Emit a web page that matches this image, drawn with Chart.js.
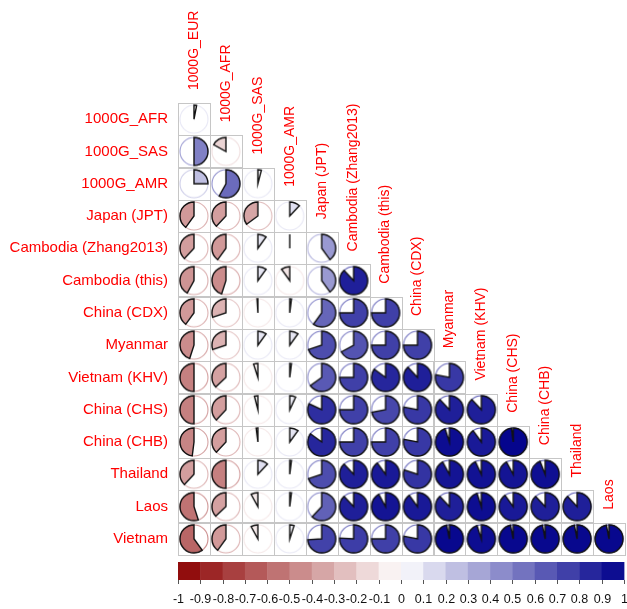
<!DOCTYPE html>
<html>
<head>
<meta charset="utf-8">
<script src="https://cdn.jsdelivr.net/npm/chart.js@4"></script>
<style>
  html, body { margin: 0; padding: 0; background: #fff; overflow: hidden; }
  #wrap { width: 640px; height: 609px; }
</style>
</head>
<body>
<div id="wrap"><canvas id="corrChart" width="640" height="609"></canvas></div>
<script>
// row and column variables (lower triangle, no diagonal)
const rowLabels = ['1000G_AFR', '1000G_SAS', '1000G_AMR', 'Japan (JPT)', 'Cambodia (Zhang2013)',
    'Cambodia (this)', 'China (CDX)', 'Myanmar', 'Vietnam (KHV)', 'China (CHS)', 'China (CHB)',
    'Thailand', 'Laos', 'Vietnam'];
const colLabels = ['1000G_EUR', '1000G_AFR', '1000G_SAS', '1000G_AMR', 'Japan (JPT)', 'Cambodia (Zhang2013)',
    'Cambodia (this)', 'China (CDX)', 'Myanmar', 'Vietnam (KHV)', 'China (CHS)', 'China (CHB)',
    'Thailand', 'Laos'];

// correlations, one array per row, read left to right
const corrAFR      = [0.03];
const corrSAS      = [0.50, -0.17];
const corrAMR      = [0.25, 0.58, 0.04];
const corrJPT      = [-0.40, -0.38, -0.35, 0.12];
const corrCamZhang = [-0.38, -0.40, 0.10, 0.00, 0.40];
const corrCamThis  = [-0.42, -0.45, 0.10, -0.10, 0.40, 0.88];
const corrCDX      = [-0.40, -0.30, -0.01, 0.02, 0.60, 0.75, 0.75];
const corrMyanmar  = [-0.45, -0.30, 0.10, 0.10, 0.70, 0.67, 0.75, 0.75];
const corrKHV      = [-0.50, -0.37, -0.05, 0.02, 0.65, 0.75, 0.85, 0.88, 0.78];
const corrCHS      = [-0.50, -0.38, -0.04, 0.07, 0.82, 0.75, 0.72, 0.78, 0.88, 0.88];
const corrCHB      = [-0.48, -0.38, -0.02, 0.10, 0.85, 0.75, 0.75, 0.78, 0.95, 0.90, 0.98];
const corrThailand = [-0.38, -0.50, 0.12, 0.02, 0.70, 0.88, 0.90, 0.80, 0.92, 0.93, 0.92, 0.94];
const corrLaos     = [-0.55, -0.37, -0.08, 0.02, 0.62, 0.88, 0.92, 0.90, 0.88, 0.95, 0.90, 0.88, 0.88];
const corrVietnam  = [-0.60, -0.40, -0.08, 0.05, 0.74, 0.76, 0.75, 0.78, 0.97, 0.95, 0.97, 0.97, 0.97, 0.97];

const corrRows = [corrAFR, corrSAS, corrAMR, corrJPT, corrCamZhang, corrCamThis, corrCDX,
    corrMyanmar, corrKHV, corrCHS, corrCHB, corrThailand, corrLaos, corrVietnam];

// colour bar tick labels
const barTicks = ['-1', '-0.9', '-0.8', '-0.7', '-0.6', '-0.5', '-0.4', '-0.3', '-0.2', '-0.1', '0',
    '0.1', '0.2', '0.3', '0.4', '0.5', '0.6', '0.7', '0.8', '0.9', '1'];

const FONT = "'Liberation Sans', Arial, sans-serif";

function corrColor(v, alpha) {
    const t = Math.min(1, Math.abs(v));
    let c;
    if (v < 0) c = [255 - 116 * t, 255 * (1 - t), 255 * (1 - t)];
    else c = [255 * (1 - t), 255 * (1 - t), 255 - 116 * t];
    const a = alpha === undefined ? 1 : alpha;
    return 'rgba(' + c.map(Math.round).join(',') + ',' + a + ')';
}

const pieCache = {};
function pieImage(v) {
    const key = v.toFixed(3);
    if (pieCache[key]) return pieCache[key];
    const cv = document.createElement('canvas');
    cv.width = 32; cv.height = 32;
    const g = cv.getContext('2d');
    const cx = 16, cy = 16, rad = 14;
    // outer ring in a lighter shade of the value colour
    g.beginPath();
    g.arc(cx, cy, rad, 0, Math.PI * 2);
    g.strokeStyle = corrColor(Math.sign(v) * Math.max(Math.abs(v), 0.12), 0.75);
    g.lineWidth = 1.1;
    g.stroke();
    const start = -Math.PI / 2;
    const sweep = Math.abs(v) * Math.PI * 2;
    g.beginPath();
    g.moveTo(cx, cy);
    if (v >= 0) g.arc(cx, cy, rad, start, start + sweep, false);
    else g.arc(cx, cy, rad, start, start - sweep, true);
    g.closePath();
    g.fillStyle = corrColor(v);
    g.fill();
    g.strokeStyle = '#111';
    g.lineWidth = 1.4;
    g.stroke();
    pieCache[key] = cv;
    return cv;
}

const points = [];
corrRows.forEach((row, i) => {
    row.forEach((v, j) => points.push({ x: j + 1, y: i + 1, r: v }));
});

const corrDecor = {
    id: 'corrDecor',
    beforeDatasetsDraw(chart) {
        const ctx = chart.ctx, xs = chart.scales.x, ys = chart.scales.y;
        ctx.save();
        ctx.strokeStyle = '#c6c6c6';
        ctx.lineWidth = 1;
        corrRows.forEach((row, i) => {
            row.forEach((v, j) => {
                const x0 = xs.getPixelForValue(j + 0.5), x1 = xs.getPixelForValue(j + 1.5);
                const y0 = ys.getPixelForValue(i + 0.5), y1 = ys.getPixelForValue(i + 1.5);
                ctx.strokeRect(Math.round(x0) + 0.5, Math.round(y0) + 0.5, Math.round(x1 - x0), Math.round(y1 - y0));
            });
        });
        ctx.restore();
    },
    afterDraw(chart) {
        const ctx = chart.ctx, xs = chart.scales.x, ys = chart.scales.y, cb = chart.scales.cb;
        ctx.save();
        // row labels
        ctx.fillStyle = '#ff0000';
        ctx.font = '15px ' + FONT;
        ctx.textAlign = 'right';
        ctx.textBaseline = 'middle';
        rowLabels.forEach((lab, i) => {
            ctx.fillText(lab, xs.getPixelForValue(0.5) - 10, ys.getPixelForValue(i + 1));
        });
        // column labels, rotated, sitting on top of each column
        ctx.font = '14px ' + FONT;
        ctx.textAlign = 'left';
        colLabels.forEach((lab, j) => {
            ctx.save();
            ctx.translate(xs.getPixelForValue(j + 1), ys.getPixelForValue(j + 0.5) - 13);
            ctx.rotate(-Math.PI / 2);
            ctx.fillText(lab, 0, 0);
            ctx.restore();
        });
        // colour bar
        const top = 562, bot = 580;
        for (let k = 0; k < 20; k++) {
            const a = -1 + k * 0.1, b = a + 0.1;
            const x0 = cb.getPixelForValue(a), x1 = cb.getPixelForValue(b);
            ctx.fillStyle = corrColor((a + b) / 2);
            ctx.fillRect(x0, top, x1 - x0 + 0.5, bot - top);
        }
        ctx.strokeStyle = '#555';
        ctx.lineWidth = 1;
        ctx.fillStyle = '#111';
        ctx.font = '12.5px ' + FONT;
        ctx.textAlign = 'center';
        ctx.textBaseline = 'middle';
        barTicks.forEach(t => {
            const px = Math.round(cb.getPixelForValue(parseFloat(t))) + 0.5;
            ctx.beginPath();
            ctx.moveTo(px, bot);
            ctx.lineTo(px, bot + 4);
            ctx.stroke();
            ctx.fillText(t, px, 600);
        });
        ctx.restore();
    }
};

const ctx = document.getElementById('corrChart').getContext('2d');
new Chart(ctx, {
    type: 'scatter',
    data: {
        datasets: [{
            label: 'correlation',
            data: points,
            pointStyle: c => pieImage(c.raw ? c.raw.r : 0),
            pointRadius: 14,
            pointHoverRadius: 14,
            clip: false
        }]
    },
    options: {
        responsive: false,
        animation: false,
        layout: { padding: { left: 178, top: 103, right: 11, bottom: 54 } },
        plugins: { legend: { display: false }, tooltip: { enabled: false } },
        scales: {
            x: { type: 'linear', min: 0.5, max: 14.5, display: false },
            y: { type: 'linear', min: 0.5, max: 14.5, reverse: true, display: false },
            cb: { type: 'linear', axis: 'x', min: -1, max: 1.005, display: false }
        }
    },
    plugins: [corrDecor]
});
</script>
</body>
</html>
